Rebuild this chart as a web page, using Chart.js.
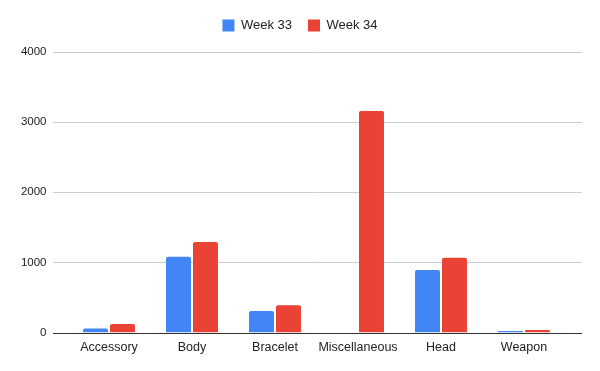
<!DOCTYPE html>
<html>
<head>
<meta charset="utf-8">
<script src="https://cdn.jsdelivr.net/npm/chart.js@4"></script>
<style>
  html, body { margin: 0; padding: 0; background: #fff; }
  #wrap { width: 600px; height: 371px; }
</style>
</head>
<body>
<div id="wrap"><canvas id="chart"></canvas></div>
<script>
const categories = ["Accessory", "Body", "Bracelet", "Miscellaneous", "Head", "Weapon"];
const week33 = [57, 1080, 305, 0, 890, 20];
const week34 = [120, 1290, 390, 3160, 1065, 35];
const yTicks = [0, 1000, 2000, 3000, 4000];

Chart.defaults.font.family = "Arial, 'Liberation Sans', sans-serif";
Chart.defaults.color = "#444";

// gridlines in this style run wider than the bar area
const wideGrid = {
  id: "wideGrid",
  beforeDatasetsDraw(chart) {
    const y = chart.scales.y;
    const c = chart.ctx;
    c.save();
    c.lineWidth = 1;
    yTicks.forEach(v => {
      const py = Math.round(y.getPixelForValue(v)) + 0.5;
      c.strokeStyle = v === 0 ? "#333" : "#ccc";
      c.beginPath();
      c.moveTo(53, py);
      c.lineTo(582, py);
      c.stroke();
    });
    c.restore();
  }
};

// extra room under the legend, and keep it centred on the whole canvas
const legendFix = {
  id: "legendFix",
  beforeInit(chart) {
    const fit = chart.legend.fit;
    chart.legend.fit = function () {
      fit.bind(chart.legend)();
      this.height += 10;
    };
  },
  afterLayout(chart) {
    chart.legend.left = 0;
    chart.legend.right = chart.width;
    chart.legend.width = chart.width;
  }
};

const ctx = document.getElementById("chart").getContext("2d");
new Chart(ctx, {
  type: "bar",
  data: {
    labels: categories,
    datasets: [
      {
        label: "Week 33",
        data: week33,
        backgroundColor: "#4285f4",
        borderRadius: 2,
        borderSkipped: "bottom",
        categoryPercentage: 0.65,
        barPercentage: 0.927
      },
      {
        label: "Week 34",
        data: week34,
        backgroundColor: "#ea4335",
        borderRadius: 2,
        borderSkipped: "bottom",
        categoryPercentage: 0.65,
        barPercentage: 0.927
      }
    ]
  },
  options: {
    responsive: true,
    maintainAspectRatio: false,
    animation: false,
    layout: { padding: { left: 0, right: 34.5, top: 3, bottom: 15.5 } },
    plugins: {
      legend: {
        position: "top",
        labels: {
          boxWidth: 12,
          boxHeight: 12,
          padding: 16,
          font: { size: 13 },
          color: "#222"
        }
      },
      tooltip: { enabled: false }
    },
    scales: {
      x: {
        grid: { display: false },
        border: { display: false },
        ticks: { font: { size: 12.5 }, color: "#222", maxRotation: 0, padding: 0 }
      },
      y: {
        min: 0,
        max: 4000,
        afterBuildTicks: axis => { axis.ticks = yTicks.map(v => ({ value: v })); },
        afterFit: axis => { axis.width = 67.5; },
        grid: { display: false },
        border: { display: false },
        ticks: {
          font: { size: 11.5 },
          color: "#222",
          padding: 13,
          callback: v => String(v)
        }
      }
    }
  },
  plugins: [wideGrid, legendFix]
});
</script>
</body>
</html>
